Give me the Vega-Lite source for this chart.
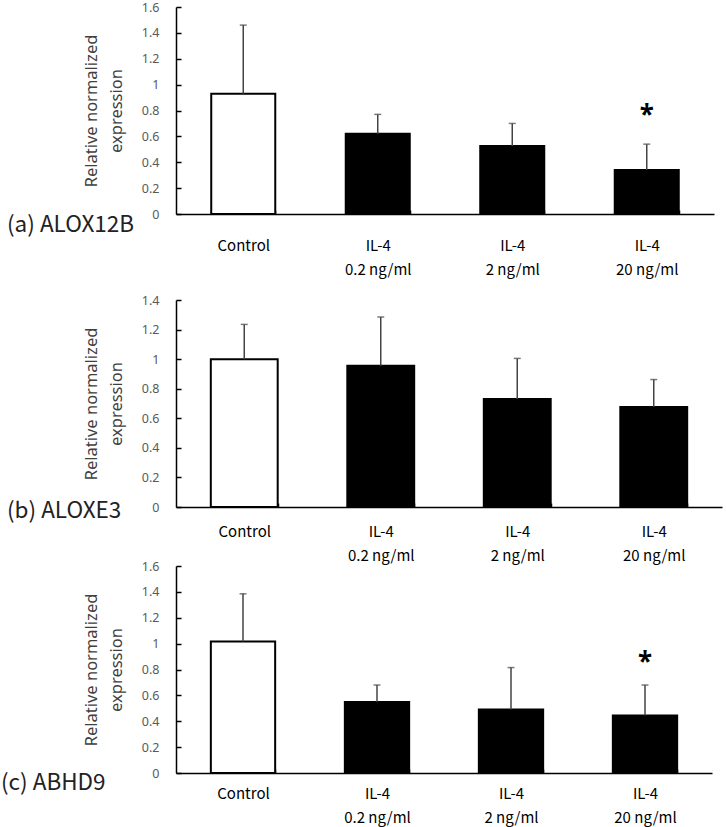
{
  "$schema": "https://vega.github.io/schema/vega-lite/v6.json",
  "background": "white",
  "padding": {"left": 1, "top": 1, "right": 4, "bottom": 2},
  "spacing": 17,
  "datasets": {
    "bars": [
      {"panel": "a", "group": "Control", "kind": "control", "mean": 0.93, "upper": 1.46, "star": null},
      {"panel": "a", "group": "IL-4|0.2 ng/ml", "kind": "il4", "mean": 0.62, "upper": 0.77, "star": null},
      {"panel": "a", "group": "IL-4|2 ng/ml", "kind": "il4", "mean": 0.525, "upper": 0.70, "star": null},
      {"panel": "a", "group": "IL-4|20 ng/ml", "kind": "il4", "mean": 0.34, "upper": 0.54, "star": 0.82},
      {"panel": "b", "group": "Control", "kind": "control", "mean": 1.0, "upper": 1.235, "star": null},
      {"panel": "b", "group": "IL-4|0.2 ng/ml", "kind": "il4", "mean": 0.955, "upper": 1.285, "star": null},
      {"panel": "b", "group": "IL-4|2 ng/ml", "kind": "il4", "mean": 0.73, "upper": 1.005, "star": null},
      {"panel": "b", "group": "IL-4|20 ng/ml", "kind": "il4", "mean": 0.677, "upper": 0.862, "star": null},
      {"panel": "c", "group": "Control", "kind": "control", "mean": 1.017, "upper": 1.385, "star": null},
      {"panel": "c", "group": "IL-4|0.2 ng/ml", "kind": "il4", "mean": 0.548, "upper": 0.68, "star": null},
      {"panel": "c", "group": "IL-4|2 ng/ml", "kind": "il4", "mean": 0.49, "upper": 0.815, "star": null},
      {"panel": "c", "group": "IL-4|20 ng/ml", "kind": "il4", "mean": 0.445, "upper": 0.68, "star": 0.91}
    ]
  },
  "config": {
    "view": {"stroke": null},
    "axis": {
      "grid": false,
      "domainColor": "#000000",
      "domainWidth": 1.5,
      "tickColor": "#000000",
      "tickWidth": 1.5,
      "labelOverlap": false
    },
    "axisY": {
      "tickSize": -5,
      "labelFont": "Noto Sans",
      "labelFontSize": 12.5,
      "labelColor": "#595959",
      "labelPadding": 22,
      "labelOverlap": false,
      "titleFont": "Noto Sans",
      "titleFontSize": 16.5,
      "titleFontWeight": "normal",
      "titleColor": "#404040",
      "titleLineHeight": 25,
      "titlePadding": 17
    },
    "axisX": {
      "tickSize": -4,
      "tickBand": "extent",
      "labelFont": "Noto Sans CJK JP",
      "labelFontSize": 15,
      "labelColor": "#000000",
      "labelAngle": 0,
      "labelLineHeight": 24,
      "labelExpr": "split(datum.label, '|')",
      "title": null
    },
    "title": {
      "font": "Noto Sans CJK JP",
      "fontSize": 22.5,
      "fontWeight": "normal",
      "color": "#222222",
      "orient": "bottom",
      "anchor": "start",
      "frame": "group",
      "offset": 0
    }
  },
  "vconcat": [
    {
      "width": 538,
      "height": 207,
      "title": {"text": "(a) ALOX12B", "dx": -169, "dy": -67},
      "data": {"name": "bars"},
      "transform": [{"filter": "datum.panel === 'a'"}],
      "encoding": {
        "x": {"field": "group", "type": "nominal", "sort": null,
              "scale": {"paddingInner": 0.524, "paddingOuter": 0.262},
              "axis": {"labelPadding": 28}}
      },
      "layer": [
        {
          "mark": {"type": "bar", "stroke": "#000000", "strokeWidth": 2},
          "encoding": {
            "y": {"field": "mean", "type": "quantitative",
                  "scale": {"domain": [0, 1.6], "nice": false},
                  "axis": {"values": [0, 0.2, 0.4, 0.6, 0.8, 1, 1.2, 1.4, 1.6], "tickCount": 9, "format": "~g", "labelOverlap": false,
                           "title": ["Relative normalized", "expression"]}},
            "fill": {"field": "kind", "type": "nominal",
                     "scale": {"domain": ["control", "il4"], "range": ["#ffffff", "#000000"]}, "legend": null}
          }
        },
        {
          "mark": {"type": "rule", "color": "#444444", "strokeWidth": 1.5},
          "encoding": {"y": {"field": "mean", "type": "quantitative",
                             "axis": {"values": [0, 0.2, 0.4, 0.6, 0.8, 1, 1.2, 1.4, 1.6], "tickCount": 9, "format": "~g", "labelOverlap": false,
                                      "title": ["Relative normalized", "expression"]}},
                       "y2": {"field": "upper"}}
        },
        {
          "mark": {"type": "tick", "color": "#444444", "thickness": 1.5, "size": 7},
          "encoding": {"y": {"field": "upper", "type": "quantitative",
                             "axis": {"values": [0, 0.2, 0.4, 0.6, 0.8, 1, 1.2, 1.4, 1.6], "tickCount": 9, "format": "~g", "labelOverlap": false,
                                      "title": ["Relative normalized", "expression"]}}}
        },
        {
          "transform": [{"filter": "isValid(datum.star)"}],
          "mark": {"type": "text", "text": "*", "font": "Noto Sans", "fontSize": 26, "fontWeight": "bold", "baseline": "middle", "dy": 8, "color": "#000000"},
          "encoding": {"y": {"field": "star", "type": "quantitative",
                             "axis": {"values": [0, 0.2, 0.4, 0.6, 0.8, 1, 1.2, 1.4, 1.6], "tickCount": 9, "format": "~g", "labelOverlap": false,
                                      "title": ["Relative normalized", "expression"]}}}
        }
      ]
    },
    {
      "spacing": -3,
      "vconcat": [
        {
          "width": 546,
          "height": 207,
          "title": {"text": "(b) ALOXE3", "dx": -169, "dy": -67},
          "data": {"name": "bars"},
          "transform": [{"filter": "datum.panel === 'b'"}],
          "encoding": {
            "x": {"field": "group", "type": "nominal", "sort": null,
                  "scale": {"paddingInner": 0.51, "paddingOuter": 0.255},
                  "axis": {"labelPadding": 21}}
          },
          "layer": [
            {
              "mark": {"type": "bar", "stroke": "#000000", "strokeWidth": 2},
              "encoding": {
                "y": {"field": "mean", "type": "quantitative",
                      "scale": {"domain": [0, 1.4], "nice": false},
                      "axis": {"values": [0, 0.2, 0.4, 0.6, 0.8, 1, 1.2, 1.4], "tickCount": 8, "format": "~g", "labelOverlap": false,
                               "title": ["Relative normalized", "expression"]}},
                "fill": {"field": "kind", "type": "nominal",
                         "scale": {"domain": ["control", "il4"], "range": ["#ffffff", "#000000"]}, "legend": null}
              }
            },
            {
              "mark": {"type": "rule", "color": "#444444", "strokeWidth": 1.5},
              "encoding": {"y": {"field": "mean", "type": "quantitative",
                                 "axis": {"values": [0, 0.2, 0.4, 0.6, 0.8, 1, 1.2, 1.4], "tickCount": 8, "format": "~g", "labelOverlap": false,
                                          "title": ["Relative normalized", "expression"]}},
                           "y2": {"field": "upper"}}
            },
            {
              "mark": {"type": "tick", "color": "#444444", "thickness": 1.5, "size": 7},
              "encoding": {"y": {"field": "upper", "type": "quantitative",
                                 "axis": {"values": [0, 0.2, 0.4, 0.6, 0.8, 1, 1.2, 1.4], "tickCount": 8, "format": "~g", "labelOverlap": false,
                                          "title": ["Relative normalized", "expression"]}}}
            }
          ]
        },
        {
          "width": 536,
          "height": 207,
          "title": {"text": "(c) ABHD9", "dx": -175, "dy": -57},
          "data": {"name": "bars"},
          "transform": [{"filter": "datum.panel === 'c'"}],
          "encoding": {
            "x": {"field": "group", "type": "nominal", "sort": null,
                  "scale": {"paddingInner": 0.52, "paddingOuter": 0.26},
                  "axis": {"labelPadding": 17}}
          },
          "layer": [
            {
              "mark": {"type": "bar", "stroke": "#000000", "strokeWidth": 2},
              "encoding": {
                "y": {"field": "mean", "type": "quantitative",
                      "scale": {"domain": [0, 1.6], "nice": false},
                      "axis": {"values": [0, 0.2, 0.4, 0.6, 0.8, 1, 1.2, 1.4, 1.6], "tickCount": 9, "format": "~g", "labelOverlap": false,
                               "title": ["Relative normalized", "expression"]}},
                "fill": {"field": "kind", "type": "nominal",
                         "scale": {"domain": ["control", "il4"], "range": ["#ffffff", "#000000"]}, "legend": null}
              }
            },
            {
              "mark": {"type": "rule", "color": "#444444", "strokeWidth": 1.5},
              "encoding": {"y": {"field": "mean", "type": "quantitative",
                                 "axis": {"values": [0, 0.2, 0.4, 0.6, 0.8, 1, 1.2, 1.4, 1.6], "tickCount": 9, "format": "~g", "labelOverlap": false,
                                          "title": ["Relative normalized", "expression"]}},
                           "y2": {"field": "upper"}}
            },
            {
              "mark": {"type": "tick", "color": "#444444", "thickness": 1.5, "size": 7},
              "encoding": {"y": {"field": "upper", "type": "quantitative",
                                 "axis": {"values": [0, 0.2, 0.4, 0.6, 0.8, 1, 1.2, 1.4, 1.6], "tickCount": 9, "format": "~g", "labelOverlap": false,
                                          "title": ["Relative normalized", "expression"]}}}
            },
            {
              "transform": [{"filter": "isValid(datum.star)"}],
              "mark": {"type": "text", "text": "*", "font": "Noto Sans", "fontSize": 26, "fontWeight": "bold", "baseline": "middle", "dy": 8, "color": "#000000"},
              "encoding": {"y": {"field": "star", "type": "quantitative",
                                 "axis": {"values": [0, 0.2, 0.4, 0.6, 0.8, 1, 1.2, 1.4, 1.6], "tickCount": 9, "format": "~g", "labelOverlap": false,
                                          "title": ["Relative normalized", "expression"]}}}
            }
          ]
        }
      ]
    }
  ]
}
